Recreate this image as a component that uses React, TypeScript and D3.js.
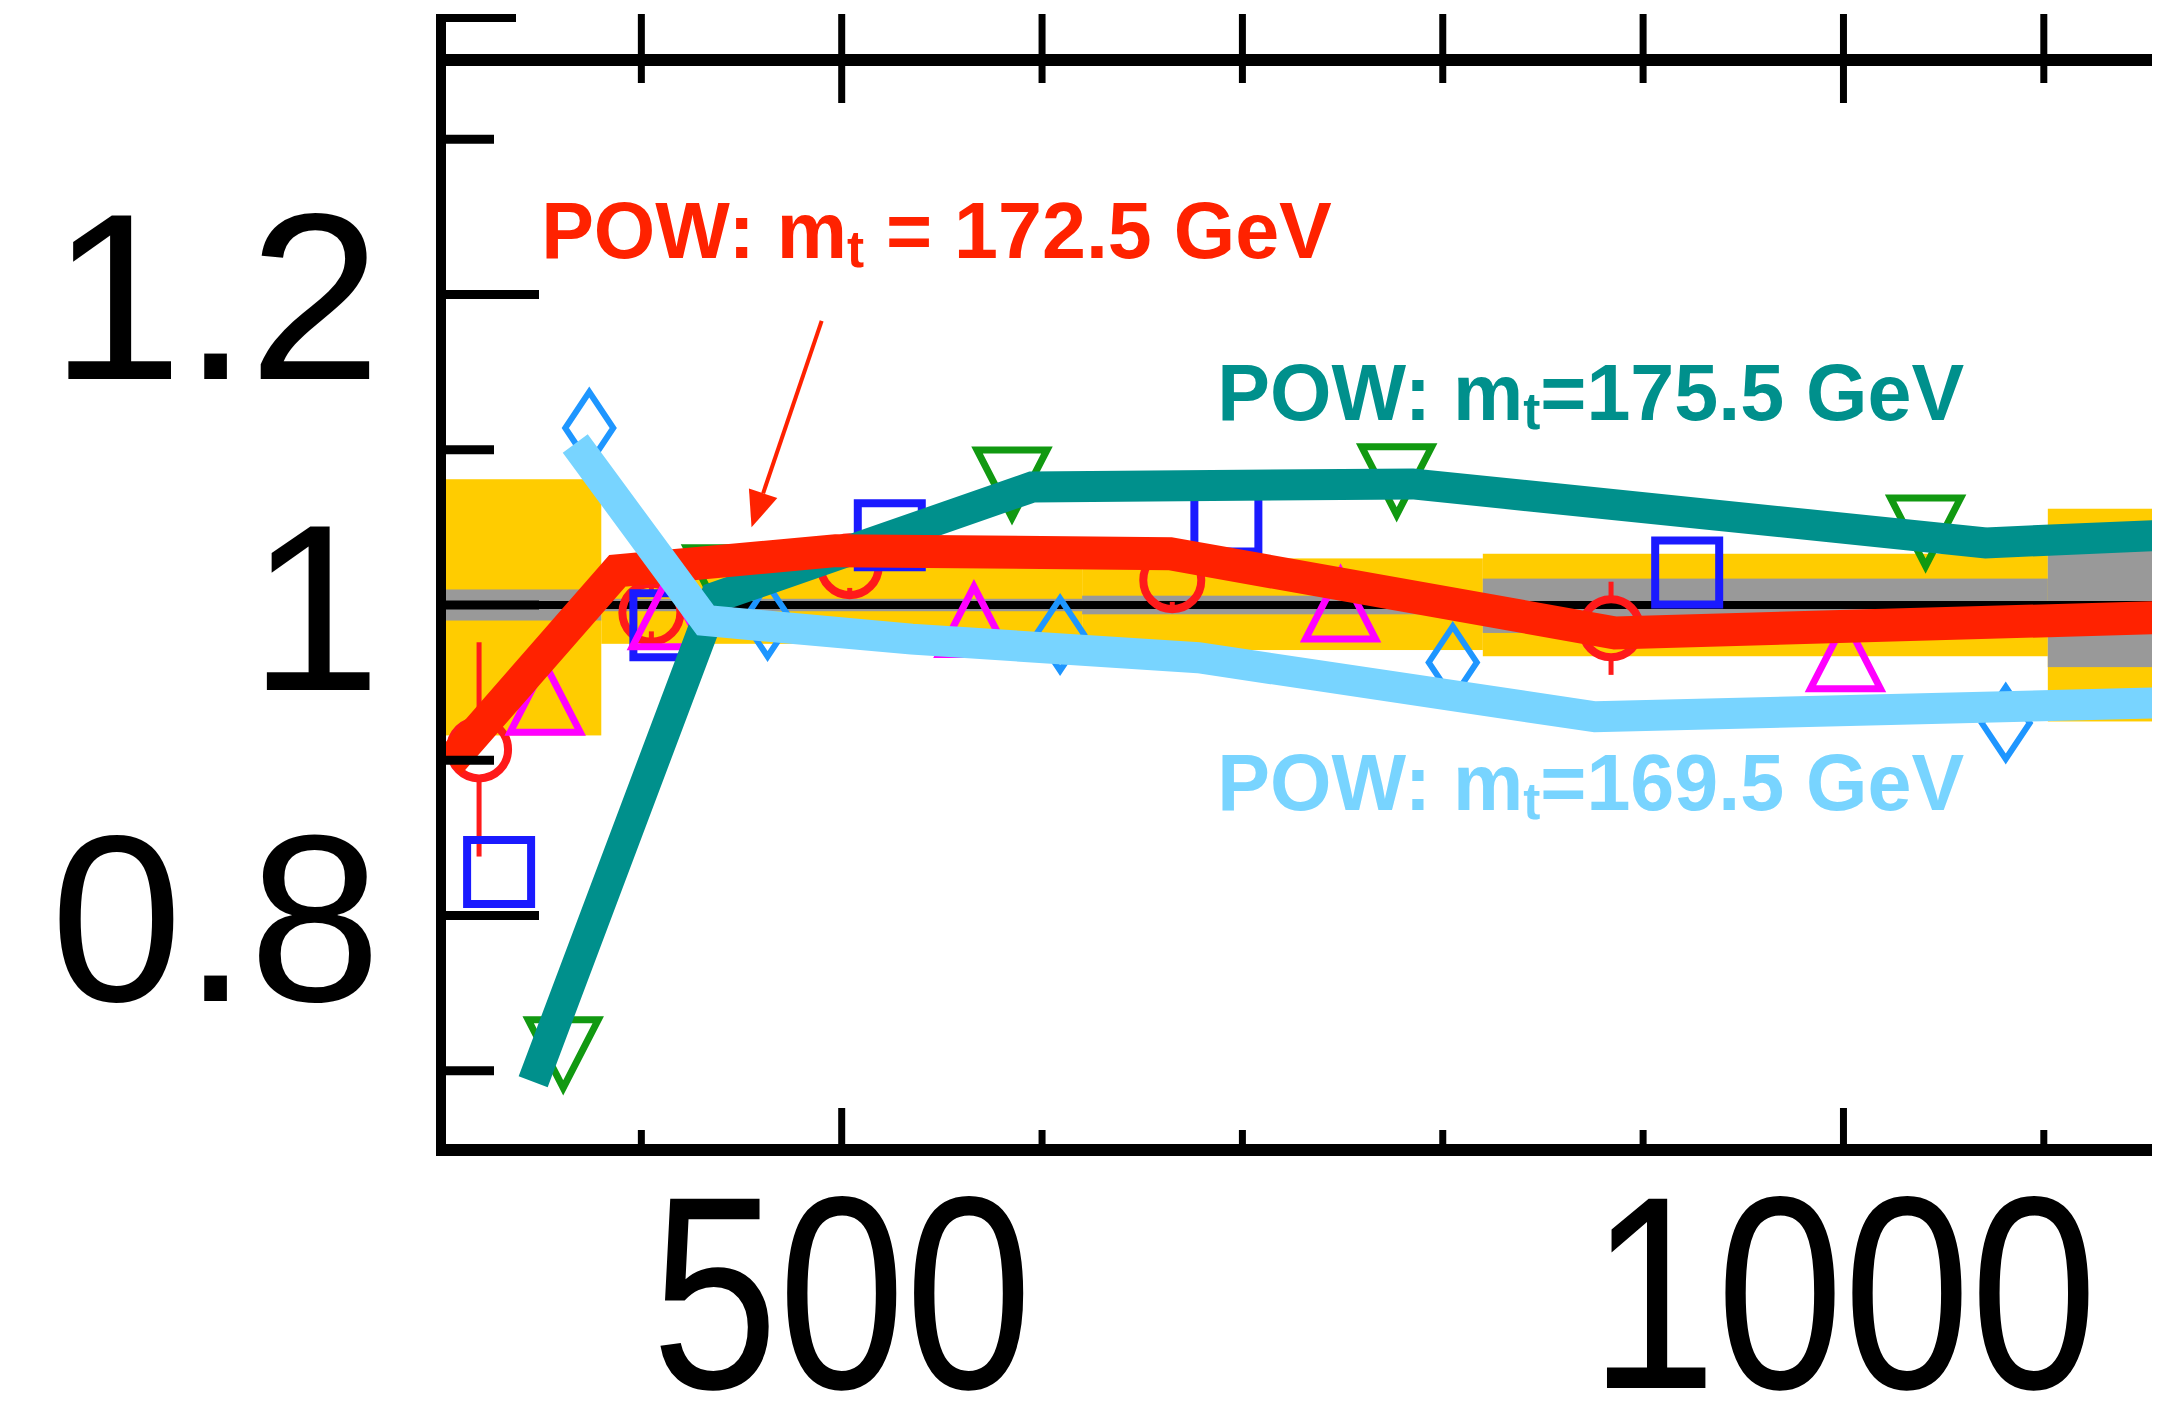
import React from 'react'
import * as d3 from 'd3'

// ratio panel: data / POWHEG for three top masses
const binEdges = [300, 380, 620, 820, 1102, 1160]
const yellowLo = [0.916, 0.975, 0.971, 0.967, 0.925]
const yellowHi = [1.081, 1.026, 1.03, 1.033, 1.062]
const grayLo = [0.99, 0.996, 0.994, 0.982, 0.96]
const grayHi = [1.01, 1.004, 1.006, 1.017, 1.05]

const squareX = [329, 412, 524, 692, 922]
const squareY = [0.828, 0.987, 1.045, 1.055, 1.021]
const circleX = [319, 405, 504, 665, 884]
const circleY = [0.907, 0.995, 1.025, 1.016, 0.985]
const circleErr = [0.069, 0.012, 0.014, 0.014, 0.03]
const triUpX = [352, 413, 566, 749, 1001]
const triUpY = [0.94, 0.995, 0.99, 1.0, 0.968]
const triDownX = [361, 440, 585, 777, 1041]
const triDownY = [0.711, 1.015, 1.078, 1.08, 1.047]
const diamondX = [374, 463, 609, 805, 1081]
const diamondY = [1.114, 0.99, 0.981, 0.963, 0.924]

const pow1755: [number, number][] = [[346, 0.693], [437, 1.005], [595, 1.076], [785, 1.078], [1071, 1.04], [1160, 1.045]]
const pow1725: [number, number][] = [[304, 0.898], [388, 1.022], [497, 1.035], [664, 1.033], [886, 0.982], [1160, 0.992]]
const pow1695: [number, number][] = [[367, 1.104], [432, 0.99], [535, 0.978], [678, 0.966], [876, 0.928], [1160, 0.937]]

const xMajor = [500, 1000]
const xMinor = [400, 600, 700, 800, 900, 1100]
const yMajor = [0.8, 1, 1.2]
const yMinor = [0.7, 0.9, 1.1, 1.3]
const yLabels = ['0.8', '1', '1.2']

const labels = [
  { x: 350, y: 1.2235, mass: ' = 172.5 GeV', color: '#ff2200', size: 79 },
  { x: 687.5, y: 1.119, mass: '=175.5 GeV', color: '#00908c', size: 79 },
  { x: 687.5, y: 0.868, mass: '=169.5 GeV', color: '#78d4ff', size: 79 },
]
const arrowFrom: [number, number] = [490, 1.183]
const arrowTo: [number, number] = [455, 1.05]

const W = 2177
const H = 1404
const left = 441
const right = 2152
const top = 60
const bottom = 1150

const x = d3.scaleLinear().domain([300, 1154]).range([left, right])
const y = d3.scaleLinear().domain([0.649, 1.351]).range([bottom, top])

const font = '"Liberation Sans", Arial, Helvetica, sans-serif'

function Markers({ xs, ys, d, color, sw }: { xs: number[]; ys: number[]; d: string; color: string; sw: number }) {
  return (
    <g fill="none" stroke={color} strokeWidth={sw} strokeLinejoin="miter">
      {xs.map((v, i) => (
        <path key={i} d={d} transform={`translate(${x(v)},${y(ys[i])})`} />
      ))}
    </g>
  )
}

export default function App() {
  const line = d3.line<[number, number]>().x(d => x(d[0])).y(d => y(d[1]))
  const bins = binEdges.slice(0, -1).map((e, i) => ({ x0: e, x1: binEdges[i + 1], i }))

  const ax0 = x(arrowFrom[0]), ay0 = y(arrowFrom[1])
  const ax1 = x(arrowTo[0]), ay1 = y(arrowTo[1])
  const ang = Math.atan2(ay1 - ay0, ax1 - ax0)
  const headL = 36, headW = 15
  const bx = ax1 - headL * Math.cos(ang), by = ay1 - headL * Math.sin(ang)
  const head = `M${ax1},${ay1}L${bx + headW * Math.sin(ang)},${by - headW * Math.cos(ang)}L${bx - headW * Math.sin(ang)},${by + headW * Math.cos(ang)}Z`

  const cr = 29
  return (
    <svg width={W} height={H} style={{ position: 'absolute', left: 0, top: 0, background: '#fff' }}>
      <defs>
        <clipPath id="plot">
          <rect x={left} y={top} width={right - left} height={bottom - top} />
        </clipPath>
      </defs>
      <g clipPath="url(#plot)">
        {bins.map(b => (
          <rect key={'y' + b.i} x={x(b.x0)} width={x(b.x1) - x(b.x0)} y={y(yellowHi[b.i])}
            height={y(yellowLo[b.i]) - y(yellowHi[b.i])} fill="#ffcc00" />
        ))}
        {bins.map(b => (
          <rect key={'g' + b.i} x={x(b.x0)} width={x(b.x1) - x(b.x0)} y={y(grayHi[b.i])}
            height={y(grayLo[b.i]) - y(grayHi[b.i])} fill="#999999" />
        ))}
        <line x1={left} x2={right} y1={y(1)} y2={y(1)} stroke="#000" strokeWidth={8} />

        {/* data points */}
        <g stroke="#ff1a1a" strokeWidth={5}>
          {circleX.map((v, i) => (
            <g key={i}>
              <line x1={x(v)} x2={x(v)} y1={y(circleY[i] + circleErr[i])} y2={y(circleY[i]) - cr} />
              <line x1={x(v)} x2={x(v)} y1={y(circleY[i]) + cr} y2={y(circleY[i] - circleErr[i])} />
            </g>
          ))}
        </g>
        <Markers xs={circleX} ys={circleY} color="#ff1a1a" sw={8} d={`M${cr},0A${cr},${cr} 0 1 1 ${-cr},0A${cr},${cr} 0 1 1 ${cr},0Z`} />
        <Markers xs={squareX} ys={squareY} color="#1a1aff" sw={8} d="M-32,-32H32V32H-32Z" />
        <Markers xs={triUpX} ys={triUpY} color="#ff00ff" sw={7} d="M0,-34L35,34H-35Z" />
        <Markers xs={triDownX} ys={triDownY} color="#119911" sw={7} d="M-35,-34H35L0,34Z" />
        <Markers xs={diamondX} ys={diamondY} color="#1e96ff" sw={6} d="M0,-36L24,0L0,36L-24,0Z" />

        {/* POWHEG curves */}
        <path d={line(pow1755) ?? ''} fill="none" stroke="#00908c" strokeWidth={31} strokeLinejoin="miter" />
        <path d={line(pow1725) ?? ''} fill="none" stroke="#ff2200" strokeWidth={33} strokeLinejoin="miter" />
        <path d={line(pow1695) ?? ''} fill="none" stroke="#78d4ff" strokeWidth={31} strokeLinejoin="miter" />
      </g>

      {/* frame */}
      <line x1={left} x2={left} y1={top - 46} y2={bottom + 6} stroke="#000" strokeWidth={10} />
      <line x1={left - 5} x2={right} y1={bottom} y2={bottom} stroke="#000" strokeWidth={12} />
      <line x1={left} x2={right} y1={top} y2={top} stroke="#000" strokeWidth={12} />
      <line x1={left} x2={left + 75} y1={top - 42} y2={top - 42} stroke="#000" strokeWidth={8} />

      <g stroke="#000" strokeWidth={9}>
        {yMajor.map(v => <line key={v} x1={left} x2={left + 98} y1={y(v)} y2={y(v)} />)}
        {yMinor.map(v => <line key={v} x1={left} x2={left + 53} y1={y(v)} y2={y(v)} />)}
      </g>
      <g stroke="#000" strokeWidth={7}>
        {xMajor.map(v => <line key={'b' + v} x1={x(v)} x2={x(v)} y1={bottom} y2={bottom - 42} />)}
        {xMinor.map(v => <line key={'b' + v} x1={x(v)} x2={x(v)} y1={bottom} y2={bottom - 20} />)}
        {xMajor.map(v => <line key={'t' + v} x1={x(v)} x2={x(v)} y1={top - 46} y2={top + 43} />)}
        {xMinor.map(v => <line key={'t' + v} x1={x(v)} x2={x(v)} y1={top - 46} y2={top + 23} />)}
      </g>

      {/* tick labels */}
      <g fontFamily={font} fontSize={238} fill="#000" textAnchor="end">
        {yMajor.map((v, i) => (
          <text key={v} x={left - 60} y={y(v) + 85}>{yLabels[i]}</text>
        ))}
      </g>
      <g fontFamily={font} fontSize={275} fill="#000" textAnchor="middle">
        {xMajor.map(v => (
          <text key={v} transform={`translate(${x(v)},1388) scale(0.83,1)`}>{v}</text>
        ))}
      </g>

      {/* annotations */}
      <g fontFamily={font} fontWeight="bold">
        {labels.map((l, i) => (
          <text key={i} x={x(l.x)} y={y(l.y)} fontSize={l.size} fill={l.color}>
            POW: m<tspan fontSize={l.size * 0.65} dy={9}>t</tspan><tspan dy={-9}>{l.mass}</tspan>
          </text>
        ))}
      </g>
      <line x1={ax0} y1={ay0} x2={bx} y2={by} stroke="#ff2200" strokeWidth={4} />
      <path d={head} fill="#ff2200" />
    </svg>
  )
}
